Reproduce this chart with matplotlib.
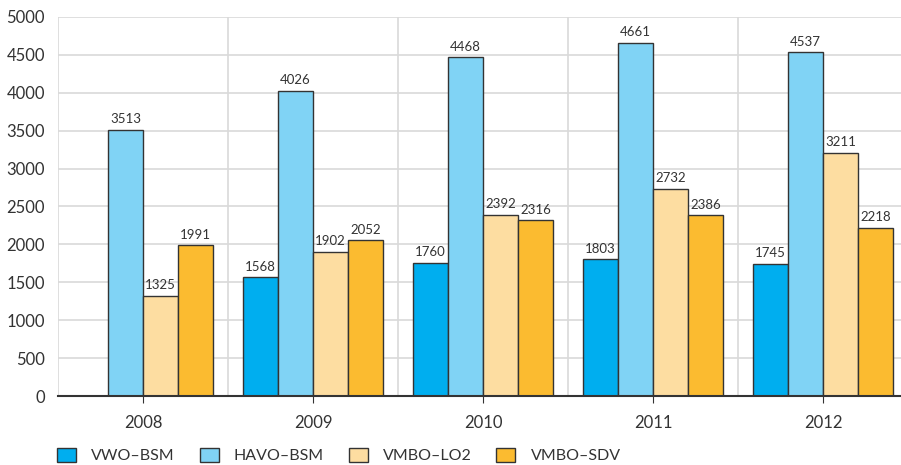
import numpy as np
import matplotlib
matplotlib.use("Agg")
import matplotlib.pyplot as plt
from matplotlib.patches import Patch

plt.rcParams['font.family'] = ['Lato', 'DejaVu Sans']

years = ['2008', '2009', '2010', '2011', '2012']
series_names = ['VWO–BSM', 'HAVO–BSM', 'VMBO–LO2', 'VMBO–SDV']
vwo_bsm = [np.nan, 1568, 1760, 1803, 1745]
havo_bsm = [3513, 4026, 4468, 4661, 4537]
vmbo_lo2 = [1325, 1902, 2392, 2732, 3211]
vmbo_sdv = [1991, 2052, 2316, 2386, 2218]
colors = ['#00AEEF', '#80D3F5', '#FDDDA1', '#FBBB30']

fig = plt.figure(figsize=(9.01, 4.65), dpi=100)
ax = fig.add_axes([58/901, 69/465, 850/901, 379/465])

x = np.arange(len(years))
w = 35/170
all_series = [vwo_bsm, havo_bsm, vmbo_lo2, vmbo_sdv]
for i, (vals, c) in enumerate(zip(all_series, colors)):
    pos = x + (i - 1.5) * w
    v = np.array(vals, dtype=float)
    ax.bar(pos, v, width=w, color=c, edgecolor='#333333', linewidth=1.0, zorder=3)
    for p, val in zip(pos, v):
        if not np.isnan(val):
            ax.text(p, val + 60, f'{int(val)}', ha='center', va='bottom',
                    fontsize=9.5, color='#333333', zorder=4)

ax.set_xlim(-0.5, len(years) - 0.5)
ax.set_ylim(0, 5000)
ax.set_yticks(np.arange(0, 5001, 500))
ax.set_xticks(x)
ax.set_xticklabels(years)
ax.set_xticks(np.arange(-0.5, len(years), 1), minor=True)
ax.grid(axis='y', color='#d9d9d9', linewidth=1.2, zorder=0)
ax.grid(axis='x', which='minor', color='#d9d9d9', linewidth=1.2, zorder=0)
ax.tick_params(axis='x', which='minor', length=0)
ax.tick_params(axis='x', which='major', length=5, color='#333333', labelsize=12,
               labelcolor='#333333', pad=9)
ax.tick_params(axis='y', length=0, labelsize=12, labelcolor='#333333', pad=9.5)
for s in ['top', 'right', 'left']:
    ax.spines[s].set_visible(False)
ax.spines['bottom'].set_color('#333333')
ax.spines['bottom'].set_linewidth(1.5)
ax.spines['bottom'].set_zorder(5)

handles = [Patch(facecolor=c, edgecolor='#333333', linewidth=1.0) for c in colors]
fig.legend(handles, series_names, loc='center left',
           bbox_to_anchor=(57/901, (465 - 455.5)/465),
           ncol=4, frameon=False, fontsize=11.5, handlelength=1.19, handleheight=0.94,
           columnspacing=1.56, handletextpad=0.94, labelcolor='#333333',
           borderpad=0, borderaxespad=0)

fig.savefig('out.png', dpi=100)
